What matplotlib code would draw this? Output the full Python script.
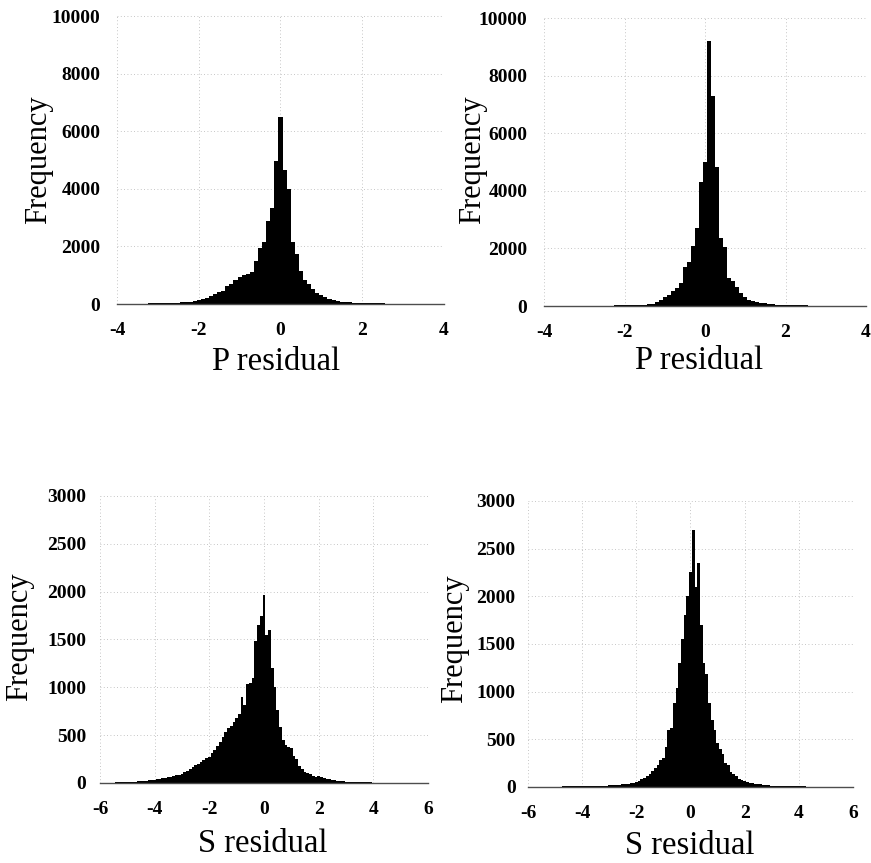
import numpy as np
import matplotlib
matplotlib.use("Agg")
import matplotlib.pyplot as plt

plt.rcParams['font.family'] = ['Liberation Serif', 'DejaVu Serif']

# bin width 0.1, counts
bin_w = 0.1

# top-left, P residual, bins centred at -4.0 ... -0.1
p1_left = [5, 6, 8, 10, 12, 14, 16, 18, 20, 23,
           26, 30, 35, 40, 45, 52, 60, 70, 85, 100,
           150, 180, 220, 270, 340, 420, 450, 620, 700, 820,
           950, 1000, 1050, 1120, 1500, 1940, 2150, 2880, 3350, 4950]
# bins centred at 0.0 ... 4.0
p1_right = [6500, 4650, 4000, 2150, 1740, 1150, 850, 700, 520, 400,
            300, 230, 170, 130, 100, 85, 70, 60, 52, 45,
            40, 35, 30, 26, 22, 19, 16, 14, 12, 10,
            9, 8, 7, 6, 5, 5, 4, 4, 3, 3,
            2]

# top-right, P residual
p2_left = [3, 3, 4, 4, 5, 5, 6, 6, 7, 8,
           9, 10, 11, 12, 13, 14, 15, 17, 19, 21,
           24, 27, 30, 34, 38, 45, 55, 70, 150, 220,
           300, 400, 520, 620, 800, 1360, 1540, 2100, 2700, 4300]
p2_right = [5000, 9200, 7280, 4830, 2350, 2060, 960, 880, 670, 450,
            300, 220, 170, 130, 110, 90, 75, 62, 52, 44,
            38, 33, 29, 26, 23, 20, 18, 16, 14, 12,
            11, 10, 9, 8, 7, 6, 6, 5, 5, 4,
            4]

# bottom-left, S residual, bins centred at -6.0 ... -0.1
s1_left = [3, 3, 4, 4, 5, 5, 6, 7, 8, 9,
           10, 11, 12, 14, 16, 18, 21, 24, 28, 32,
           35, 40, 45, 50, 55, 60, 65, 75, 80, 88,
           95, 110, 125, 145, 165, 190, 200, 220, 240, 260,
           275, 310, 350, 390, 430, 480, 530, 580, 600, 640,
           680, 720, 900, 820, 1030, 1050, 1100, 1480, 1650, 1750]
# bins centred at 0.0 ... 6.0
s1_right = [1960, 1550, 1600, 1200, 1000, 760, 590, 450, 400, 380,
            370, 280, 250, 180, 150, 120, 100, 90, 75, 65,
            70, 60, 52, 45, 40, 35, 30, 25, 21, 18,
            15, 13, 12, 11, 10, 9, 8, 7, 6, 6,
            5, 5, 4, 4, 4, 3, 3, 3, 3, 2,
            2, 2, 2, 2, 2, 1, 1, 1, 1, 1,
            1]

# bottom-right, S residual
s2_left = [1, 1, 2, 2, 2, 2, 3, 3, 3, 3,
           4, 4, 4, 5, 5, 5, 6, 6, 7, 7,
           8, 8, 9, 10, 10, 11, 12, 13, 14, 15,
           16, 18, 20, 22, 25, 28, 32, 36, 40, 45,
           55, 65, 80, 95, 115, 140, 170, 200, 230, 280,
           300, 420, 600, 620, 880, 1040, 1300, 1550, 1800, 2000]
s2_right = [2250, 2700, 2100, 2350, 1700, 1300, 1180, 880, 700, 600,
            460, 400, 350, 250, 230, 160, 140, 120, 80, 70,
            60, 50, 45, 40, 35, 30, 26, 22, 20, 18,
            15, 13, 12, 11, 10, 9, 8, 8, 7, 6,
            6, 5, 5, 4, 4, 4, 3, 3, 3, 3,
            2, 2, 2, 2, 2, 1, 1, 1, 1, 1,
            1]

x_labels = ['P residual', 'P residual', 'S residual', 'S residual']
x_ticks_p = [-4, -2, 0, 2, 4]
x_ticks_s = [-6, -4, -2, 0, 2, 4, 6]
y_ticks_p = [0, 2000, 4000, 6000, 8000, 10000]
y_ticks_s = [0, 500, 1000, 1500, 2000, 2500, 3000]

panels = [
    # counts, half-range, xticks, yticks, axes rect, ylabel pos, xlabel pos, ytick pad
    (p1_left + p1_right, 4, x_ticks_p, y_ticks_p, [0.1343, 0.6477, 0.3754, 0.3337], (-0.24, 0.50), (0.486, -0.20), 12),
    (p2_left + p2_right, 4, x_ticks_p, y_ticks_p, [0.6246, 0.6454, 0.3697, 0.3337], (-0.222, 0.507), (0.48, -0.19), 12),
    (s1_left + s1_right, 6, x_ticks_s, y_ticks_s, [0.1148, 0.0927, 0.3766, 0.3326], (-0.245, 0.51), (0.497, -0.21), 10),
    (s2_left + s2_right, 6, x_ticks_s, y_ticks_s, [0.6062, 0.0881, 0.3731, 0.3314], (-0.225, 0.517), (0.498, -0.206), 9),
]

fig = plt.figure(figsize=(8.71, 8.63), dpi=100)

for i, (counts, half, xt, yt, rect, ylpos, xlpos, ypad) in enumerate(panels):
    ax = fig.add_axes(rect)
    n_half = int(round(half / bin_w))
    centers = np.arange(-n_half, n_half + 1) * bin_w
    assert len(centers) == len(counts)
    ax.bar(centers, counts, width=bin_w, color='black', edgecolor='none', zorder=2)

    ax.set_xlim(-half, half)
    ax.set_ylim(0, yt[-1])
    ax.set_xticks(xt)
    ax.set_yticks(yt)
    ax.set_xticklabels([str(v) for v in xt], fontweight='bold', fontsize=14)
    ax.set_yticklabels([str(v) for v in yt], fontweight='bold', fontsize=14)
    ax.tick_params(axis='x', length=0, pad=13)
    ax.tick_params(axis='y', length=0, pad=ypad)

    ax.grid(True, linestyle=(0, (1, 3)), color='0.7', linewidth=0.6, zorder=0)
    for s in ['top', 'right', 'left']:
        ax.spines[s].set_visible(False)
    ax.spines['bottom'].set_color('0.3')
    ax.spines['bottom'].set_linewidth(1.0)

    ax.set_ylabel('Frequency', fontsize=22)
    ax.yaxis.set_label_coords(*ylpos)
    ax.yaxis.label.set_va('center')
    ax.set_xlabel(x_labels[i], fontsize=23.5)
    ax.xaxis.set_label_coords(*xlpos)
    ax.xaxis.label.set_va('center')

fig.savefig('out.png', dpi=100)
